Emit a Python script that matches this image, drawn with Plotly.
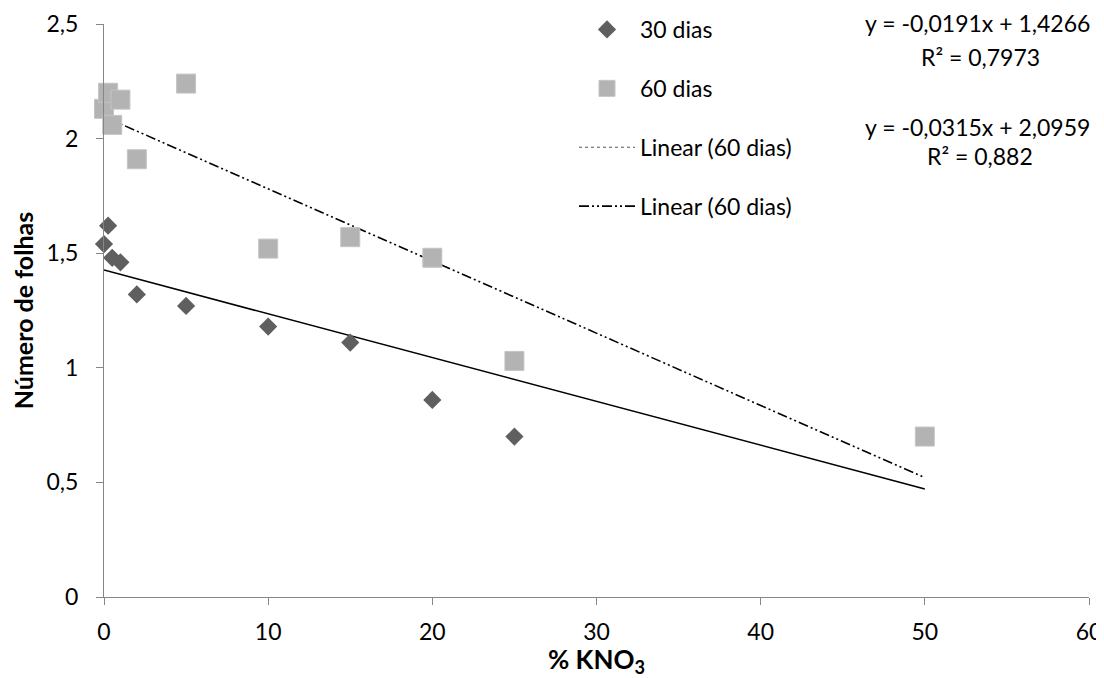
import plotly.graph_objects as go

# --- data ---
x30 = [0, 0.25, 0.5, 1, 2, 5, 10, 15, 20, 25]
y30 = [1.54, 1.62, 1.48, 1.46, 1.32, 1.27, 1.18, 1.11, 0.86, 0.70]
x60 = [0, 0.25, 0.5, 1, 2, 5, 10, 15, 20, 25, 50]
y60 = [2.13, 2.20, 2.06, 2.17, 1.91, 2.24, 1.52, 1.57, 1.48, 1.03, 0.70]

# trendline coefficients shown on the chart (slope, intercept)
fit30 = [-0.0191, 1.4266]
fit60 = [-0.0315, 2.0959]
fit_x = [0, 50]

eq_texts = ["y = -0,0191x + 1,4266", "R² = 0,7973",
            "y = -0,0315x + 2,0959", "R² = 0,882"]
x_ticks = [0, 10, 20, 30, 40, 50, 60]
y_ticks = [0, 0.5, 1, 1.5, 2, 2.5]

FONT = "Lato"
FS = 23

line30_y = [fit30[0] * v + fit30[1] for v in fit_x]
line60_y = [fit60[0] * v + fit60[1] for v in fit_x]

fig = go.Figure()
fig.add_trace(go.Scatter(
    x=fit_x, y=line30_y, mode="lines", showlegend=False,
    line=dict(color="black", width=1.6)))
fig.add_trace(go.Scatter(
    x=fit_x, y=line60_y, mode="lines", name="Linear (60 dias)", legendgroup="d",
    legendrank=4,
    line=dict(color="black", width=1.6, dash="10px,3px,2px,3px,2px,3px")))
# legend proxy (dotted) as in the reference legend
fig.add_trace(go.Scatter(
    x=[None], y=[None], mode="lines", name="Linear (60 dias)", legendgroup="c",
    legendrank=3,
    line=dict(color="#555555", width=1, dash="dot")))
fig.add_trace(go.Scatter(
    x=x30, y=y30, mode="markers", name="30 dias", legendgroup="a",
    legendrank=1,
    marker=dict(symbol="diamond", size=14, color="#5f5f5f"),
    cliponaxis=False))
fig.add_trace(go.Scatter(
    x=x60, y=y60, mode="markers", name="60 dias", legendgroup="b",
    legendrank=2,
    marker=dict(symbol="square", size=19, color="#b3b3b3",
                line=dict(color="#c4c4c4", width=1)),
    cliponaxis=False))

# the page body adds an 8px offset; compensate so the plot lands at
# screen x 104..1089, y 24..597
OFF = 8
W, H = 1104 - OFF, 678 - OFF
L, T = 104 - OFF, 24 - OFF
pw, ph = 985, 573
R, B = W - L - pw, H - T - ph

def sx(px):  # screen px -> paper x
    return (px - 104) / pw

def sy(py):  # screen px -> paper y
    return (597 - py) / ph

eq_pos = [(977, 23), (980, 57), (977, 127), (980, 156)]
for txt, (px, py) in zip(eq_texts, eq_pos):
    fig.add_annotation(text=txt, xref="paper", yref="paper",
                       x=sx(px), y=sy(py),
                       xanchor="center", yanchor="middle", showarrow=False,
                       font=dict(family=FONT, size=FS, color="black"))

fig.update_layout(
    width=W, height=H,
    margin=dict(l=L, r=R, t=T, b=B, autoexpand=False),
    paper_bgcolor="white", plot_bgcolor="white",
    separators=", ",
    font=dict(family=FONT, size=FS, color="black"),
    legend=dict(x=sx(574), y=sy(8), xanchor="left", yanchor="top",
                bgcolor="rgba(0,0,0,0)", tracegroupgap=26, itemwidth=56,
                traceorder="grouped",
                font=dict(family=FONT, size=FS, color="black")),
    xaxis=dict(range=[0, 60], tickvals=x_ticks, showgrid=False, zeroline=False,
               showline=True, linecolor="#868686", linewidth=1, automargin=False,
               ticks="outside", ticklen=7, tickcolor="#868686",
               ticklabelstandoff=7,
               title=dict(text="<b>% KNO<sub>3</sub></b>", standoff=12,
                          font=dict(family=FONT, size=26))),
    yaxis=dict(range=[0, 2.5], tickvals=y_ticks, showgrid=False, zeroline=False,
               showline=True, linecolor="#868686", linewidth=1, automargin=False,
               ticks="outside", ticklen=7, tickcolor="#868686",
               ticklabelstandoff=13,
               tickformat=".1~f",
               title=dict(text="<b>Número de folhas</b>", standoff=7,
                          font=dict(family=FONT, size=25))),
)

fig.write_html("out.html")
